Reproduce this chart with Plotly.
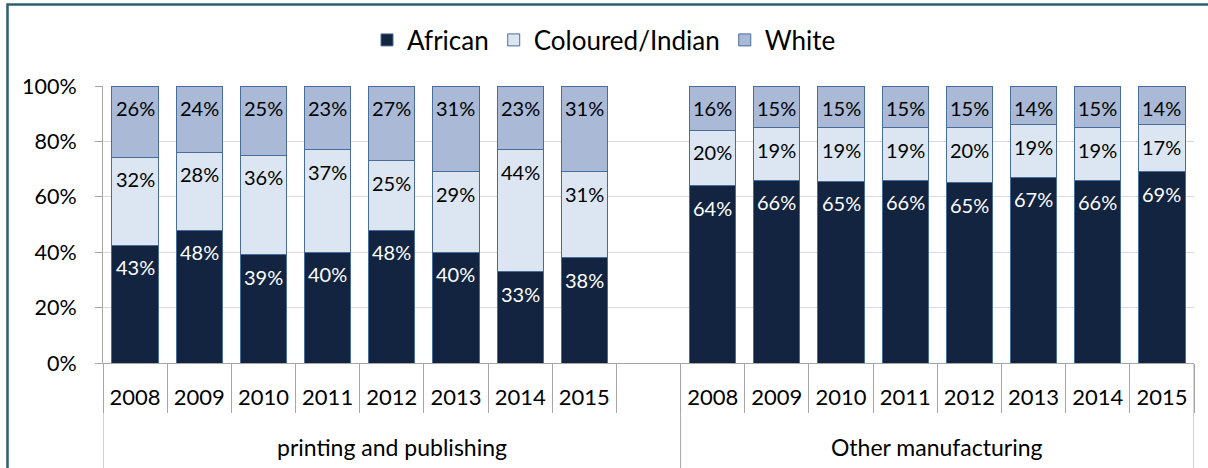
import plotly.graph_objects as go

# ---- data ----
years = ["2008", "2009", "2010", "2011", "2012", "2013", "2014", "2015"]
group_names = ["printing and publishing", "Other manufacturing"]

print_african = [43, 48, 39, 40, 48, 40, 33, 38]
print_coloured = [32, 28, 36, 37, 25, 29, 44, 31]
print_white = [26, 24, 25, 23, 27, 31, 23, 31]

other_african = [64, 66, 65, 66, 65, 67, 66, 69]
other_coloured = [20, 19, 19, 19, 20, 19, 19, 17]
other_white = [16, 15, 15, 15, 15, 14, 15, 14]

series_names = ["African", "Coloured/Indian", "White"]
colors = ["#12243F", "#DCE6F2", "#A9B9D6"]
text_colors = ["white", "black", "black"]

# ---- layout constants ----
W, H = 1208, 468
ML, MR, MT, MB = 103, 14, 86, 105
PW, PH = W - ML - MR, H - MT - MB
FONT = "Lato"
GRID = "#D9D9D9"
AXIS = "#A6A6A6"

# slots: 8 years, one empty slot, 8 years
n_slots = len(years) * 2 + 1
x_print = list(range(len(years)))
x_other = list(range(len(years) + 1, n_slots))
x_all = x_print + x_other
tick_text = years + years

series_vals = [
    print_african + other_african,
    print_coloured + other_coloured,
    print_white + other_white,
]

fig = go.Figure()
for name, vals, col in zip(series_names, series_vals, colors):
    fig.add_trace(go.Bar(
        x=x_all, y=vals, name=name,
        marker=dict(color=col, line=dict(color="#4A6C9B", width=1)),
        hoverinfo="skip",
    ))

# value labels near the top of each normalized segment
annotations = []
for j, xi in enumerate(x_all):
    total = sum(s[j] for s in series_vals)
    cum = 0
    for k in range(3):
        v = series_vals[k][j]
        cum += v
        annotations.append(dict(
            x=xi, y=cum / total * 100, xref="x", yref="y", text=f"{v}%",
            showarrow=False, yanchor="middle", xanchor="center", yshift=-22,
            font=dict(family=FONT, size=20, color=text_colors[k]),
        ))

# group labels under the year row
group_centers = [(x_print[0] - 0.5 + x_other[0] - 0.5) / 2,
                 (x_other[0] - 0.5 + x_other[-1] + 0.5) / 2]
for gname, gx in zip(group_names, group_centers):
    annotations.append(dict(
        x=gx, y=0, xref="x", yref="y", text=gname, showarrow=False,
        yanchor="middle", xanchor="center", yshift=-84,
        font=dict(family=FONT, size=23, color="black"),
    ))

def px_x(p):
    return (p - ML) / PW

def px_y(p):
    return (H - MB - p) / PH

shapes = []
# long group dividers
for bx in [x_print[0] - 0.5, x_other[0] - 0.5, x_other[-1] + 0.5]:
    shapes.append(dict(type="line", xref="x", yref="paper",
                       x0=bx, x1=bx, y0=0, y1=px_y(H + 5),
                       line=dict(color=AXIS, width=1)))
# outer frame (right and bottom edges fall outside the picture)
shapes.append(dict(
    type="rect", xref="paper", yref="paper",
    x0=px_x(7.5), x1=px_x(W + 10), y0=px_y(H + 10), y1=px_y(4.5),
    line=dict(color="#2F5F6E", width=2.5), fillcolor="rgba(0,0,0,0)", layer="above",
))

fig.update_layout(
    width=W, height=H,
    margin=dict(l=ML, r=MR, t=MT, b=MB, autoexpand=False),
    barmode="stack", barnorm="percent", bargap=0.28,
    paper_bgcolor="white", plot_bgcolor="white",
    font=dict(family=FONT, size=20, color="black"),
    showlegend=True,
    legend=dict(orientation="h", xref="container", yref="container",
                x=0.5, xanchor="center", y=1 - 40 / H, yanchor="middle",
                font=dict(family=FONT, size=26), traceorder="normal",
                itemclick=False, itemdoubleclick=False),
    annotations=annotations,
    shapes=shapes,
)
fig.update_yaxes(
    range=[0, 100], dtick=20, ticksuffix="%",
    showgrid=True, gridcolor=GRID, gridwidth=1,
    showline=True, linecolor=AXIS, linewidth=1,
    ticks="outside", ticklen=7, tickcolor=AXIS,
    zeroline=False, tickfont=dict(family=FONT, size=21.5),
    ticklabelstandoff=14,
)
fig.update_xaxes(
    range=[-0.5, n_slots - 0.5],
    tickmode="array", tickvals=x_all, ticktext=tick_text,
    ticks="", showgrid=False, zeroline=False,
    showline=True, linecolor=AXIS, linewidth=1,
    tickfont=dict(family=FONT, size=22),
    ticklabelstandoff=15,
    minor=dict(tickmode="array",
               tickvals=[i - 0.5 for i in range(n_slots + 1)],
               ticks="outside", ticklen=49, tickcolor=AXIS, tickwidth=1,
               showgrid=False),
)

fig.write_html(
    "out.html",
    config={"displayModeBar": False, "staticPlot": True},
    post_script="document.body.style.margin='0';document.body.style.overflow='hidden';",
)
